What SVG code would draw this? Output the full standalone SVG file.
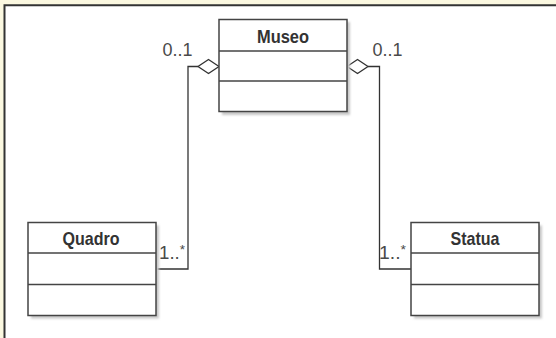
<svg xmlns="http://www.w3.org/2000/svg" width="556" height="338" viewBox="0 0 556 338">
<style>
.box{fill:#fff;stroke:#444;stroke-width:1.5}
.sep{stroke:#444;stroke-width:1.3}
.shadow{fill:#c8c8c8;filter:url(#blur)}
.title{font-family:"Liberation Sans",Arial,sans-serif;font-weight:bold;font-size:19px;fill:#333;text-anchor:middle}
.mult{font-family:"Liberation Sans",Arial,sans-serif;font-size:18px;fill:#4a4a4a}
.conn{fill:none;stroke:#333;stroke-width:1.3}
.dia{fill:#fff;stroke:#333;stroke-width:1.3}
</style>
<defs>
<filter id="blur" x="-10%" y="-10%" width="120%" height="120%"><feGaussianBlur stdDeviation="1.2"/></filter>
</defs>
<rect x="0" y="0" width="556" height="338" fill="#fbf8e0"/>
<rect x="4.5" y="5.3" width="552" height="333" fill="#fff"/>
<path d="M4.5 338 V5.3 H556" fill="none" stroke="#333" stroke-width="2"/>
<g id="connectors">
<path class="conn" d="M198 66.5 H188 V269 H156"/>
<path class="dia" d="M219 66.5 L208.5 59.5 L198 66.5 L208.5 73.5 Z"/>
<path class="conn" d="M368 66.5 H379.5 V269 H411"/>
<path class="dia" d="M347 66.5 L357.5 59.5 L368 66.5 L357.5 73.5 Z"/>
<text class="mult" x="162.5" y="56" textLength="30" lengthAdjust="spacingAndGlyphs">0..1</text>
<text class="mult" x="372.5" y="56" textLength="30" lengthAdjust="spacingAndGlyphs">0..1</text>
<text class="mult" x="159" y="258.5" textLength="26" lengthAdjust="spacingAndGlyphs">1..<tspan font-size="13" dy="-5">*</tspan></text>
<text class="mult" x="379" y="258.5" textLength="27" lengthAdjust="spacingAndGlyphs">1..<tspan font-size="13" dy="-5">*</tspan></text>
</g>
<g id="museo">
<rect class="shadow" x="222" y="22" width="128" height="93"/>
<rect class="box" x="219" y="19.5" width="128" height="92"/>
<line class="sep" x1="219" y1="51" x2="347" y2="51"/>
<line class="sep" x1="219" y1="81" x2="347" y2="81"/>
<text class="title" x="283" y="42.5" textLength="52" lengthAdjust="spacingAndGlyphs">Museo</text>
</g>
<g id="quadro">
<rect class="shadow" x="31" y="225.5" width="128" height="93"/>
<rect class="box" x="28" y="222.5" width="128" height="93"/>
<line class="sep" x1="28" y1="253" x2="156" y2="253"/>
<line class="sep" x1="28" y1="284.5" x2="156" y2="284.5"/>
<text class="title" x="91" y="244.5" textLength="57" lengthAdjust="spacingAndGlyphs">Quadro</text>
</g>
<g id="statua">
<rect class="shadow" x="414" y="225.5" width="128" height="93"/>
<rect class="box" x="411" y="222.5" width="128" height="93"/>
<line class="sep" x1="411" y1="253" x2="539" y2="253"/>
<line class="sep" x1="411" y1="284.5" x2="539" y2="284.5"/>
<text class="title" x="475" y="244.5" textLength="49" lengthAdjust="spacingAndGlyphs">Statua</text>
</g>
</svg>
